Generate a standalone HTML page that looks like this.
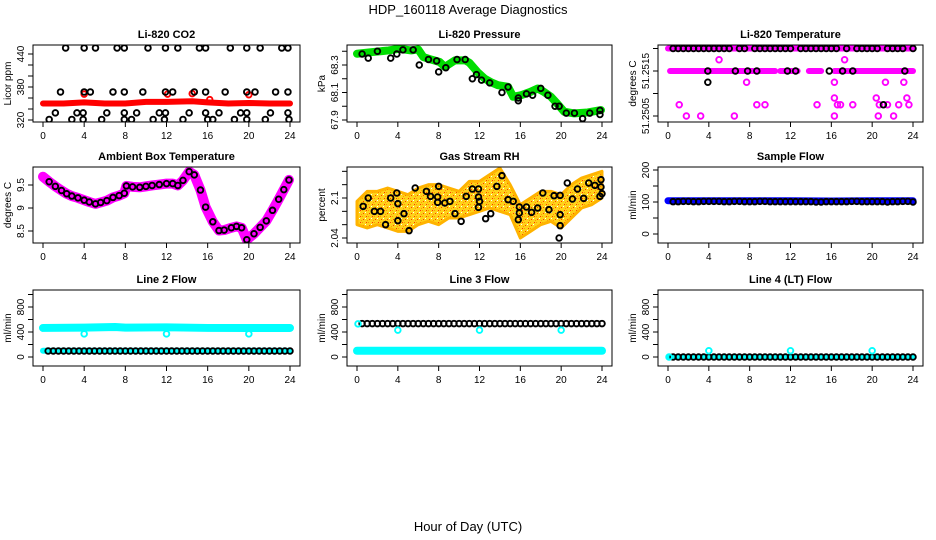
<!DOCTYPE html>
<html><head><meta charset="utf-8"><style>
html,body{margin:0;padding:0;background:#fff;}
svg{display:block;font-family:"Liberation Sans",sans-serif;}
</style></head><body>
<svg id="c" width="936" height="540" viewBox="0 0 936 540" xmlns="http://www.w3.org/2000/svg">
<text x="468" y="14" font-size="13" text-anchor="middle">HDP_160118  Average Diagnostics</text>
<text x="468" y="531" font-size="13" text-anchor="middle">Hour of Day (UTC)</text>
</svg>
<script>
// ---- data ----
const xTicks = [0,4,8,12,16,20,24];
const halfHours = [0.5,1,1.5,2,2.5,3,3.5,4,4.5,5,5.5,6,6.5,7,7.5,8,8.5,9,9.5,10,10.5,11,11.5,12,12.5,13,13.5,14,14.5,15,15.5,16,16.5,17,17.5,18,18.5,19,19.5,20,20.5,21,21.5,22,22.5,23,23.5,24];

// CO2
const co2LineHours = [0,2,4,6,8,10,12,14.5,16,18,20,22,24];
const co2LineVals = [350,350,352,350,350,353,353,354,352,350,351,350,350];
const co2PtHours = [2.2,4.0,5.1,7.2,7.9,10.2,11.9,13.1,15.2,15.8,18.2,19.8,21.1,23.2,23.8, 1.7,4.0,4.6,6.8,7.9,9.7,11.9,12.6,14.7,15.8,17.7,19.8,20.6,22.6,23.8, 1.2,3.3,3.9,6.2,7.9,9.1,11.3,11.9,14.2,15.8,17.1,19.2,19.8,22.1,23.8, 0.6,2.8,3.9,5.7,7.9,8.6,10.7,11.8,13.6,16,16.5,18.6,19.8,21.6,23.9];
const co2PtVals = [451,451,451,451,451,451,451,451,451,451,451,451,451,451,451, 371,371,371,371,371,371,371,371,371,371,371,371,371,371,371, 333,333,333,333,333,333,333,333,333,333,333,333,333,333,333, 321,321,321,321,321,321,321,321,321,321,321,321,321,321,321];
const co2RedHours = [4.0,12.1,14.5,16.2,20.0];
const co2RedVals = [367,367,368,357,366];

// Pressure
const presHours = [0,1.5,3.1,4.1,5.3,6.0,6.5,7.3,8.1,8.6,9.6,10.6,11.0,11.8,12.5,13.2,13.8,14.8,15.3,16.1,17.0,17.7,18.3,19.0,19.6,20.3,21.3,22.6,23.9];
const presVals = [68.382,68.394,68.406,68.418,68.406,68.413,68.358,68.339,68.322,68.286,68.334,68.334,68.317,68.249,68.201,68.172,68.153,68.141,68.069,68.081,68.105,68.129,68.105,68.069,68.020,67.960,67.948,67.955,67.972];
const presPtHours = [0.5,1.1,2.0,3.3,3.9,4.5,5.5,6.1,7.0,7.8,8.0,8.7,9.8,10.6,11.3,11.7,12.2,13.0,14.2,14.8,15.8,15.8,16.6,17.2,18.0,18.7,19.4,19.8,20.5,21.3,22.1,22.8,23.8,23.8];
const presPtVals = [68.38,68.35,68.40,68.35,68.38,68.41,68.41,68.30,68.34,68.33,68.25,68.28,68.34,68.34,68.20,68.23,68.19,68.17,68.10,68.14,68.06,68.04,68.09,68.08,68.13,68.08,68.00,68.00,67.95,67.95,67.91,67.95,67.97,67.94];

// Li-820 Temperature
const tempBandStarts = [0, 0.2, 11.0, 13.8, 16.3];
const tempBandEnds = [24, 10.5, 12.7, 15.0, 24];
const tempBandVals = [51.2520, 51.2515, 51.2515, 51.2515, 51.2515];
const tempMagHours = [5.0,17.3,1.1,7.7,8.7,9.5,14.6,16.3,16.6,16.9,18.1,20.7,21.5,22.6,23.6,21.3,23.1,16.3,20.4,23.4,1.8,3.2,6.5,16.3,20.6,22.1];
const tempMagVals = [51.25175,51.25175,51.25075,51.25125,51.25075,51.25075,51.25075,51.25125,51.25075,51.25075,51.25075,51.25075,51.25075,51.25075,51.25075,51.25125,51.25125,51.2509,51.2509,51.2509,51.2505,51.2505,51.2505,51.2505,51.2505,51.2505];
const tempBlkHours = [0.5,1,1.5,2,2.5,3,3.5,4,4.5,5,5.5,6,7,7.5,8.5,9,9.5,10,10.5,11,11.5,12,13,13.5,14,14.5,15,15.5,16,16.5,17.5,18.5,19,19.5,20,20.5,21.5,22,22.5,23,24, 3.9,6.6,7.8,8.7,11.7,12.5,15.8,17.1,18.1,23.2, 3.9,21.1];
const tempBlkVals = [51.252,51.252,51.252,51.252,51.252,51.252,51.252,51.252,51.252,51.252,51.252,51.252,51.252,51.252,51.252,51.252,51.252,51.252,51.252,51.252,51.252,51.252,51.252,51.252,51.252,51.252,51.252,51.252,51.252,51.252,51.252,51.252,51.252,51.252,51.252,51.252,51.252,51.252,51.252,51.252,51.252, 51.2515,51.2515,51.2515,51.2515,51.2515,51.2515,51.2515,51.2515,51.2515,51.2515, 51.25125,51.25075];

// Ambient
const ambHours = [0,0.6,1.2,1.8,2.3,2.8,3.4,4.0,4.5,5.1,5.6,6.2,6.8,7.4,7.9,8.1,8.7,9.4,10.0,10.6,11.3,12.0,12.6,13.1,13.6,14.2,14.7,15.3,15.8,16.5,17.1,17.6,18.3,18.8,19.3,19.8,20.5,21.1,21.7,22.3,22.9,23.4,23.9];
const ambVals = [9.68,9.57,9.47,9.38,9.31,9.26,9.22,9.17,9.13,9.09,9.12,9.16,9.23,9.27,9.32,9.48,9.46,9.45,9.47,9.49,9.51,9.53,9.53,9.49,9.60,9.79,9.72,9.39,9.02,8.70,8.51,8.52,8.57,8.60,8.57,8.31,8.44,8.58,8.72,8.95,9.19,9.40,9.61];

// Gas stream RH
const rhBandHours = [0,1,2,3,4,5,6,7,8,9,10,11,12,13,14,15,16,17,18,19,20,21,22,23,24];
const rhBandLow = [2.06,2.055,2.06,2.055,2.05,2.05,2.06,2.065,2.06,2.07,2.07,2.075,2.08,2.085,2.08,2.075,2.04,2.05,2.06,2.065,2.055,2.07,2.085,2.09,2.10];
const rhBandHigh = [2.095,2.11,2.11,2.115,2.11,2.105,2.115,2.12,2.12,2.115,2.11,2.125,2.125,2.135,2.145,2.12,2.09,2.10,2.11,2.11,2.105,2.12,2.13,2.135,2.14];
const rhPtHours = [0.6,1.1,1.7,2.3,2.8,3.3,3.9,4.0,4.0,4.6,5.1,5.7,6.8,7.2,7.9,7.9,8.0,8.6,9.1,9.6,10.2,10.7,11.3,11.9,11.9,12.0,11.9,12.6,13.1,13.7,14.2,14.8,15.3,15.9,15.9,15.8,16.6,17.1,17.7,18.2,18.8,19.3,19.9,19.9,19.9,19.8,20.6,21.1,21.6,22.2,22.7,23.3,23.9,23.9,24.0,23.8];
const rhPtVals = [2.0875,2.10,2.08,2.08,2.06,2.10,2.1075,2.0915,2.066,2.0765,2.051,2.115,2.11,2.1025,2.1015,2.0935,2.1175,2.0925,2.095,2.0765,2.065,2.1025,2.1135,2.1135,2.1015,2.095,2.086,2.069,2.0765,2.1175,2.1335,2.0975,2.095,2.0865,2.0775,2.0675,2.0865,2.0785,2.085,2.1075,2.0825,2.1035,2.104,2.075,2.0585,2.04,2.1225,2.0985,2.1135,2.0995,2.1225,2.119,2.1275,2.1165,2.1065,2.1025];

// Sample flow
const sfLineHours = [0,4,8,12,16,20,24];
const sfLineVals = [104,104,104,104,103,104,104];
const sfBlack = [101,101,102,102,101,101,102,102,102,102,101,101,102,102,101,101,101,102,102,101,101,101,101,101,101,101,101,101,100,100,101,101,101,101,101,102,102,101,101,101,101,101,100,101,101,102,102,100];

// Line 2
const l2HighHours = [0,4,7,8,12,16,20,24];
const l2HighVals = [465,470,480,470,475,465,465,465];
const l2LowHours = [0,24];
const l2LowVals = [100,100];
const l2Black = [96,96,96,96,96,96,96,96,96,96,96,96,96,96,96,96,96,96,96,96,96,96,96,96,96,96,96,96,96,96,96,96,96,96,96,96,96,96,96,96,96,96,96,96,96,96,96,96];
const l2OutHours = [4,12,20];
const l2OutVals = [370,370,370];

// Line 3
const l3LowHours = [0,24];
const l3LowVals = [100,100];
const l3Black = [535,535,535,535,535,535,535,535,535,535,535,535,535,535,535,535,535,535,535,535,535,535,535,535,535,535,535,535,535,535,535,535,535,535,535,535,535,535,535,535,535,535,535,535,535,535,535,535];
const l3OutHours = [0.1,4,12,20];
const l3OutVals = [530,430,430,430];

// Line 4
const l4LineHours = [0,24];
const l4LineVals = [0,0];
const l4Black = [0,0,0,0,0,0,0,0,0,0,0,0,0,0,0,0,0,0,0,0,0,0,0,0,0,0,0,0,0,0,0,0,0,0,0,0,0,0,0,0,0,0,0,0,0,0,0,0];
const l4OutHours = [0.1,4,12,20];
const l4OutVals = [0,100,100,100];

// ---- drawing ----
const NS = "http://www.w3.org/2000/svg";
const svg = document.getElementById('c');
function mk(tag, attrs, parent){
  const e = document.createElementNS(NS, tag);
  for (const k in attrs) e.setAttribute(k, attrs[k]);
  (parent||svg).appendChild(e);
  return e;
}
const cols = [[33,300],[347,612],[658,923]];
const rows = [[45,122],[167,243],[290,366]];

function panel(ci, ri, name, title, ylab, v1, y1, v2, y2, ticks, labels){
  const [L,R] = cols[ci], [T,B] = rows[ri];
  const g = mk('g', {});
  
  
  const x0 = L+10, x1 = R-10;
  const X = h => x0 + (x1-x0)*h/24;
  const Y = v => y1 + (v - v1)*(y2-y1)/(v2-v1);
  const clip = mk('clipPath', {id:'cp'+ci+ri}, g);
  mk('rect', {x:L, y:T, width:R-L, height:B-T}, clip);
  const plot = mk('g', {'clip-path':'url(#cp'+ci+ri+')'}, g);
  
  
  const t = mk('text', {x:(L+R)/2, y:T-7, 'font-size':11, 'font-weight':'bold', 'text-anchor':'middle'}, g);
  t.textContent = title;
  
  
  const box = mk('rect', {x:L, y:T, width:R-L, height:B-T, fill:'none', stroke:'#000', 'stroke-width':1}, g);
  
  
  xTicks.forEach(h => {
    mk('line', {x1:X(h), x2:X(h), y1:B, y2:B+5, stroke:'#000'}, g);
    const tl = mk('text', {x:X(h), y:B+17, 'font-size':10, 'text-anchor':'middle'}, g);
    tl.textContent = h;
    
    
  });
  ticks.forEach(v => { mk('line', {x1:L, x2:L-5, y1:Y(v), y2:Y(v), stroke:'#000'}, g); });
  labels.forEach(v => {
    const yl = mk('text', {x:0, y:0, 'font-size':10, 'text-anchor':'middle', transform:'translate('+(L-9)+','+Y(v)+') rotate(-90)'}, g);
    yl.textContent = v;
    
    
  });
  const yt = mk('text', {x:0, y:0, 'font-size':10, 'text-anchor':'middle', transform:'translate('+(L-22)+','+((T+B)/2)+') rotate(-90)'}, g);
  yt.textContent = ylab;
  
  
  return {X, Y, plot};
}
function thick(p, hs, vs, color, w, nm){
  const pts = hs.map((h,i) => p.X(h)+','+p.Y(vs[i])).join(' ');
  const e = mk('polyline', {points:pts, fill:'none', stroke:color, 'stroke-width':w, 'stroke-linecap':'round', 'stroke-linejoin':'round'}, p.plot);
  
  
}
function circles(p, hs, vs, color, nm, r, sw){
  hs.forEach((h,i) => {
    const c = mk('circle', {cx:p.X(h), cy:p.Y(vs[i]), r:r||2.8, fill:'none', stroke:color, 'stroke-width':sw||1.9}, p.plot);
    
    
  });
}

// CO2
let p = panel(0,0,'co2','Li-820 CO2','Licor ppm',320,120,440,54,[320,340,360,380,400,420,440],[320,380,440]);
thick(p, co2LineHours, co2LineVals, '#ff0000', 6, 'co2-series');
circles(p, co2RedHours, co2RedVals, '#ff0000', 'co2-red-point');
circles(p, co2PtHours, co2PtVals, '#000', 'co2-point');

// Pressure
p = panel(1,0,'pressure','Li-820 Pressure','kPa',67.9,120,68.3,65,[67.9,68.0,68.1,68.2,68.3,68.4],[67.9,68.1,68.3]);
thick(p, presHours, presVals, '#00dd00', 8, 'pressure-series');
circles(p, presPtHours, presPtVals, '#000', 'pressure-point');

// Temperature
p = panel(2,0,'li820-temp','Li-820 Temperature','degrees C',51.2505,116,51.2515,71,[51.2505,51.251,51.2515,51.252],[51.2505,51.2515]);
tempBandStarts.forEach((s,i) => thick(p, [s, tempBandEnds[i]], [tempBandVals[i], tempBandVals[i]], '#ff00ff', 6, 'temp-band'));
circles(p, tempMagHours, tempMagVals, '#ff00ff', 'temp-magenta-point');
circles(p, tempBlkHours, tempBlkVals, '#000', 'temp-point');

// Ambient
p = panel(0,1,'ambient-temp','Ambient Box Temperature','degrees C',8.5,231,9.5,185,[8.5,9.0,9.5],[8.5,9.0,9.5]);
thick(p, ambHours, ambVals, '#ff00ff', 10, 'ambient-series');
circles(p, ambHours.slice(1), ambVals.slice(1), '#000', 'ambient-point');

// RH
p = panel(1,1,'rh','Gas Stream RH','percent',2.04,238,2.10,198,[2.04,2.06,2.08,2.10,2.12,2.14],[2.04,2.10]);
{
  const defs = mk('defs', {}, svg);
  const pat = mk('pattern', {id:'rhpat', width:6, height:6, patternUnits:'userSpaceOnUse'}, defs);
  mk('rect', {x:0, y:0, width:6, height:6, fill:'#ffd21a'}, pat);
  mk('rect', {x:0, y:0, width:1, height:1, fill:'#ff3300'}, pat);
  mk('rect', {x:3, y:3, width:1, height:1, fill:'#ff3300'}, pat);
  mk('rect', {x:2, y:0, width:1, height:1, fill:'#ff9900'}, pat);
  mk('rect', {x:5, y:2, width:1, height:1, fill:'#ffffff'}, pat);
  mk('rect', {x:1, y:4, width:1, height:1, fill:'#ff9900'}, pat);
  const up = rhBandHours.map((h,i) => p.X(h)+','+p.Y(rhBandHigh[i]));
  const lo = rhBandHours.map((h,i) => p.X(h)+','+p.Y(rhBandLow[i])).reverse();
  const band = mk('polygon', {points: up.concat(lo).join(' '), fill:'url(#rhpat)', stroke:'#ffb300', 'stroke-width':3, 'stroke-linejoin':'round'}, p.plot);
  
  
}
circles(p, rhPtHours, rhPtVals, '#000', 'rh-point');

// Sample flow
p = panel(2,1,'sample-flow','Sample Flow','ml/min',0,234,200,170,[0,50,100,150,200],[0,100,200]);
thick(p, sfLineHours, sfLineVals, '#0000ff', 7, 'sample-flow-series');
circles(p, halfHours, sfBlack, '#000', 'sample-flow-point');

// Line 2
p = panel(0,2,'line2-flow','Line 2 Flow','ml/min',0,357,800,307,[0,200,400,600,800,1000],[0,400,800]);
thick(p, l2HighHours, l2HighVals, '#00ffff', 8, 'line2-high-series');
thick(p, l2LowHours, l2LowVals, '#00ffff', 6, 'line2-low-series');
circles(p, halfHours, l2Black, '#000', 'line2-point');
circles(p, l2OutHours, l2OutVals, '#00ffff', 'line2-outlier');

// Line 3
p = panel(1,2,'line3-flow','Line 3 Flow','ml/min',0,357,800,307,[0,200,400,600,800,1000],[0,400,800]);
thick(p, l3LowHours, l3LowVals, '#00ffff', 8, 'line3-low-series');
circles(p, halfHours, l3Black, '#000', 'line3-point');
circles(p, l3OutHours, l3OutVals, '#00ffff', 'line3-outlier');

// Line 4
p = panel(2,2,'line4-flow','Line 4 (LT) Flow','ml/min',0,357,800,307,[0,200,400,600,800,1000],[0,400,800]);
thick(p, l4LineHours, l4LineVals, '#00ffff', 5, 'line4-series');
circles(p, halfHours, l4Black, '#000', 'line4-point');
circles(p, l4OutHours, l4OutVals, '#00ffff', 'line4-outlier');
</script>
</body></html>
